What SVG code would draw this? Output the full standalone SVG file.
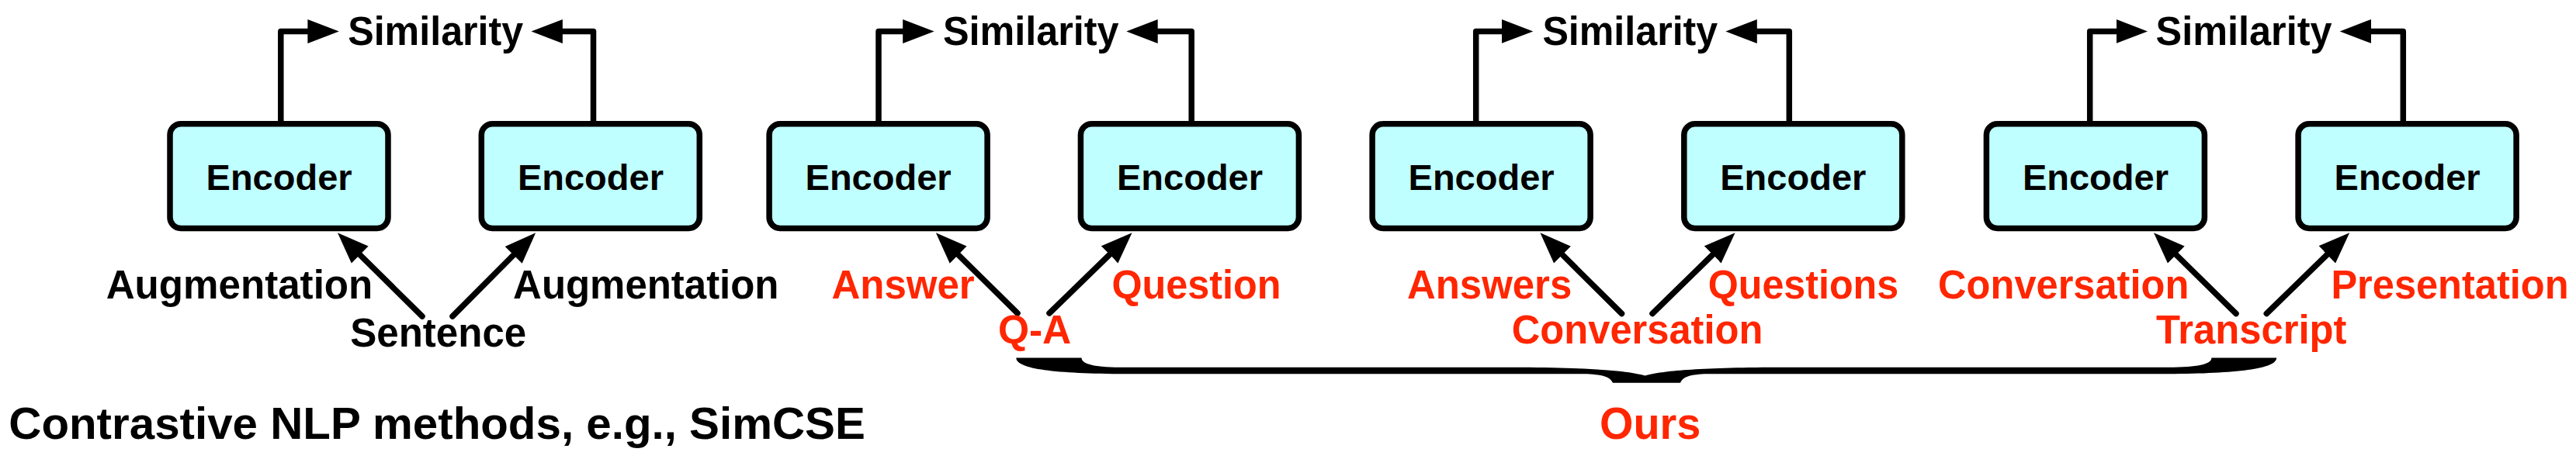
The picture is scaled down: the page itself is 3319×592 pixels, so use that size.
<svg xmlns="http://www.w3.org/2000/svg" width="3319" height="592" viewBox="0 0 3319 592">
<style>
.box{fill:#C0FFFF;stroke:#000;stroke-width:7.5}
.t{font-family:"Liberation Sans",Arial,Helvetica,sans-serif;font-weight:bold}
.enc{font-size:47px;fill:#000;text-anchor:middle}
.lbl{font-size:51px;fill:#000}
.red{fill:#FF2600}
.big{font-size:57px}
.con{fill:none;stroke:#000;stroke-width:7.5;stroke-linejoin:round;stroke-linecap:round}
.top{stroke-linecap:butt}
</style>
<defs>
<marker id="ah" markerUnits="userSpaceOnUse" markerWidth="42" markerHeight="32" viewBox="0 -16 42 32" refX="1" refY="0" orient="auto">
<path d="M0,-15.5 L40.4,0 L0,15.5 Z" fill="#000"/>
</marker>
</defs>
<rect width="3319" height="592" fill="#fff"/>
<g id="connectors">
<polyline class="con top" points="361.8,160 361.8,40.4 397.4,40.4" marker-end="url(#ah)"/>
<polyline class="con top" points="764.5,160 764.5,40.4 723.9,40.4" marker-end="url(#ah)"/>
<polyline class="con top" points="1132,160 1132,40.4 1164.2,40.4" marker-end="url(#ah)"/>
<polyline class="con top" points="1535.2,160 1535.2,40.4 1490.7,40.4" marker-end="url(#ah)"/>
<polyline class="con top" points="1901.7,160 1901.7,40.4 1935.9,40.4" marker-end="url(#ah)"/>
<polyline class="con top" points="2305.3,160 2305.3,40.4 2262.8,40.4" marker-end="url(#ah)"/>
<polyline class="con top" points="2692.7,160 2692.7,40.4 2727.6,40.4" marker-end="url(#ah)"/>
<polyline class="con top" points="3096.3,160 3096.3,40.4 3054.1,40.4" marker-end="url(#ah)"/>
<line class="con" x1="544" y1="408" x2="463" y2="327.9" marker-end="url(#ah)"/>
<line class="con" x1="583" y1="408" x2="662.4" y2="328.1" marker-end="url(#ah)"/>
<line class="con" x1="1311" y1="404" x2="1233.9" y2="327.9" marker-end="url(#ah)"/>
<line class="con" x1="1352" y1="404" x2="1430.3" y2="327.7" marker-end="url(#ah)"/>
<line class="con" x1="2089.5" y1="404.5" x2="2012.4" y2="327.95" marker-end="url(#ah)"/>
<line class="con" x1="2129" y1="404.5" x2="2207.4" y2="327.8" marker-end="url(#ah)"/>
<line class="con" x1="2881" y1="404.5" x2="2803.1" y2="327.8" marker-end="url(#ah)"/>
<line class="con" x1="2920.3" y1="404.5" x2="2999" y2="327.7" marker-end="url(#ah)"/>
</g>
<g id="brace">
<path d="M1309.3,461.4 L1393.5,461.4 C1393.5,470 1412,473.8 1450,473.8 L1960,473.8 C2060,474.5 2100,479 2119.6,484.6 C2139,479 2180,474.5 2280,473.8 L2790,473.8 C2830,473.8 2849.4,470 2849.4,461.4 L2933.2,461.4 C2933.2,476 2880,481.8 2790,482.2 L2200,482.2 C2178,482.6 2168,486 2165,493.8 L2078,493.8 C2075,486 2064,482.6 2040,482.2 L1450,482.2 C1360,481.8 1309.3,476 1309.3,461.4 Z" fill="#000"/>
</g>
<g id="enc1"><rect class="box" x="219" y="159.7" width="281" height="134.8" rx="14"/><text class="t enc" x="359.6" y="245.4">Encoder</text></g>
<g id="enc2"><rect class="box" x="620.3" y="159.7" width="281" height="134.8" rx="14"/><text class="t enc" x="760.9" y="245.4">Encoder</text></g>
<g id="enc3"><rect class="box" x="991.1" y="159.7" width="281" height="134.8" rx="14"/><text class="t enc" x="1131.6" y="245.4">Encoder</text></g>
<g id="enc4"><rect class="box" x="1392.4" y="159.7" width="281" height="134.8" rx="14"/><text class="t enc" x="1533" y="245.4">Encoder</text></g>
<g id="enc5"><rect class="box" x="1768.1" y="159.7" width="281" height="134.8" rx="14"/><text class="t enc" x="1908.6" y="245.4">Encoder</text></g>
<g id="enc6"><rect class="box" x="2169.8" y="159.7" width="281" height="134.8" rx="14"/><text class="t enc" x="2310.3" y="245.4">Encoder</text></g>
<g id="enc7"><rect class="box" x="2559.4" y="159.7" width="281" height="134.8" rx="14"/><text class="t enc" x="2699.9" y="245.4">Encoder</text></g>
<g id="enc8"><rect class="box" x="2961.1" y="159.7" width="281" height="134.8" rx="14"/><text class="t enc" x="3101.6" y="245.4">Encoder</text></g>
<g id="sim1"><text class="t lbl" x="448.2" y="58" textLength="226" lengthAdjust="spacingAndGlyphs">Similarity</text></g>
<g id="sim2"><text class="t lbl" x="1215" y="58" textLength="226.5" lengthAdjust="spacingAndGlyphs">Similarity</text></g>
<g id="sim3"><text class="t lbl" x="1987.4" y="58" textLength="225.8" lengthAdjust="spacingAndGlyphs">Similarity</text></g>
<g id="sim4"><text class="t lbl" x="2777.6" y="58" textLength="226.9" lengthAdjust="spacingAndGlyphs">Similarity</text></g>
<g id="aug1"><text class="t lbl" x="136.7" y="385" textLength="343.6" lengthAdjust="spacingAndGlyphs">Augmentation</text></g>
<g id="aug2"><text class="t lbl" x="661.1" y="385" textLength="342.4" lengthAdjust="spacingAndGlyphs">Augmentation</text></g>
<g id="sentence"><text class="t lbl" x="451.2" y="447" textLength="227" lengthAdjust="spacingAndGlyphs">Sentence</text></g>
<g id="answer"><text class="t lbl red" x="1071.5" y="385" textLength="184.2" lengthAdjust="spacingAndGlyphs">Answer</text></g>
<g id="question"><text class="t lbl red" x="1432.4" y="385" textLength="218" lengthAdjust="spacingAndGlyphs">Question</text></g>
<g id="qa"><text class="t lbl red" x="1285.9" y="442.5" textLength="94.4" lengthAdjust="spacingAndGlyphs">Q-A</text></g>
<g id="answers"><text class="t lbl red" x="1813" y="385" textLength="212.2" lengthAdjust="spacingAndGlyphs">Answers</text></g>
<g id="questions"><text class="t lbl red" x="2200.7" y="385" textLength="245.5" lengthAdjust="spacingAndGlyphs">Questions</text></g>
<g id="conversation1"><text class="t lbl red" x="1947.8" y="442.5" textLength="323.6" lengthAdjust="spacingAndGlyphs">Conversation</text></g>
<g id="conversation2"><text class="t lbl red" x="2497.1" y="385" textLength="323.2" lengthAdjust="spacingAndGlyphs">Conversation</text></g>
<g id="presentation"><text class="t lbl red" x="3003.4" y="385" textLength="306.2" lengthAdjust="spacingAndGlyphs">Presentation</text></g>
<g id="transcript"><text class="t lbl red" x="2778" y="442.5" textLength="245.4" lengthAdjust="spacingAndGlyphs">Transcript</text></g>
<g id="ours"><text class="t lbl red big" x="2061" y="566" textLength="130.3" lengthAdjust="spacingAndGlyphs">Ours</text></g>
<g id="caption"><text class="t lbl big" x="11.3" y="566" textLength="1103.6" lengthAdjust="spacingAndGlyphs">Contrastive NLP methods, e.g., SimCSE</text></g>
</svg>
